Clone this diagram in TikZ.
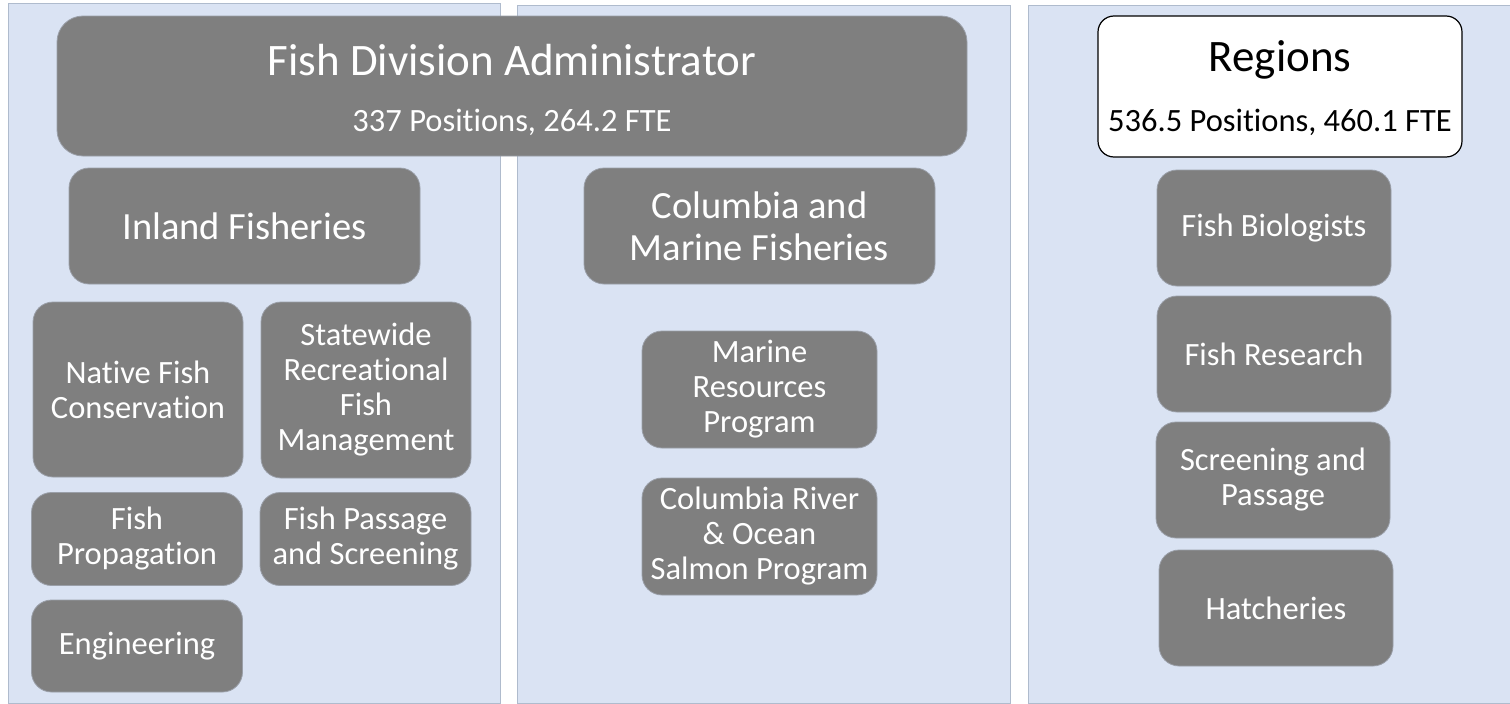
\documentclass[tikz,border=0pt]{standalone}
\usepackage{fontspec}
\setmainfont{Carlito}[RawFeature={-liga;-clig;-calt;-dlig}]
\definecolor{panelblue}{HTML}{DAE3F3}
\definecolor{paneledge}{HTML}{AFBBCD}
\definecolor{boxgray}{HTML}{7F7F7F}
\definecolor{boxedge}{HTML}{9A9FA8}

\begin{document}
\begin{tikzpicture}[x=1pt,y=-1pt,
    panel/.style={fill=panelblue,draw=paneledge,line width=0.8pt},
    unitbox/.style={rounded corners=20pt,fill=boxgray,draw=boxedge,line width=0.8pt,
      text=white,align=center,inner sep=0pt,font=\fontsize{32.5}{35}\selectfont},
    branchbox/.style={unitbox,font=\fontsize{38.5}{42}\selectfont},
    titletext/.style={inner sep=0pt,font=\fontsize{45}{50}\selectfont},
    counttext/.style={inner sep=0pt,font=\fontsize{32.5}{36}\selectfont}]
    \useasboundingbox (0,0) rectangle (1510,704);

    % background panels
    \draw[panel] (8,3) rectangle (500,703);
    \draw[panel] (517,5) rectangle (1010,703);
    \draw[panel] (1028,5) rectangle (1512,703);

    % heads
    \node[unitbox,minimum width=910pt,minimum height=140pt,rounded corners=26pt] (admin) at (512,86) {};
    \node[titletext,text=white] (admintitle) at (512,60) {Fish Division Administrator};
    \node[counttext,text=white] (admincount) at (512,122) {337 Positions, 264.2 FTE};

    \node[fill=white,draw=black,line width=1.2pt,rounded corners=16pt,
      minimum width=364pt,minimum height=141pt] (regions) at (1280,86.5) {};
    \node[titletext] (regionstitle) at (1280,60) {Regions};
    \node[counttext] (regionscount) at (1280,122) {536.5 Positions, 460.1 FTE};

    % inland fisheries
    \node[branchbox,minimum width=351pt,minimum height=116pt] (inland) at (244.5,226) {Inland Fisheries};
    \node[unitbox,minimum width=210pt,minimum height=175pt] (native) at (138,389.5) {Native Fish\\Conservation};
    \node[unitbox,minimum width=210pt,minimum height=176pt] (statewide) at (366,390) {Statewide\\Recreational\\Fish\\Management};
    \node[unitbox,minimum width=211pt,minimum height=93pt] (propagation) at (137,539) {Fish\\Propagation};
    \node[unitbox,minimum width=211pt,minimum height=93pt] (passage) at (365.5,539) {Fish Passage\\and Screening};
    \node[unitbox,minimum width=211pt,minimum height=92pt] (engineering) at (137,646) {Engineering};

    % columbia and marine
    \node[branchbox,minimum width=351pt,minimum height=116pt] (colmarine) at (759.5,226) {Columbia and\\Marine Fisheries};
    \node[unitbox,minimum width=235pt,minimum height=117pt] (marine) at (759.5,389.5) {Marine\\Resources\\Program};
    \node[unitbox,minimum width=235pt,minimum height=117pt] (salmon) at (759.5,536.5) {Columbia River\\\&~Ocean\\Salmon Program};

    % regions
    \node[unitbox,minimum width=234pt,minimum height=116pt] (biologists) at (1274,228) {Fish Biologists};
    \node[unitbox,minimum width=234pt,minimum height=116pt] (research) at (1274,354) {Fish Research};
    \node[unitbox,minimum width=234pt,minimum height=116pt] (screening) at (1273,480) {Screening and\\Passage};
    \node[unitbox,minimum width=234pt,minimum height=116pt] (hatcheries) at (1276,608) {Hatcheries};
\end{tikzpicture}
\end{document}
